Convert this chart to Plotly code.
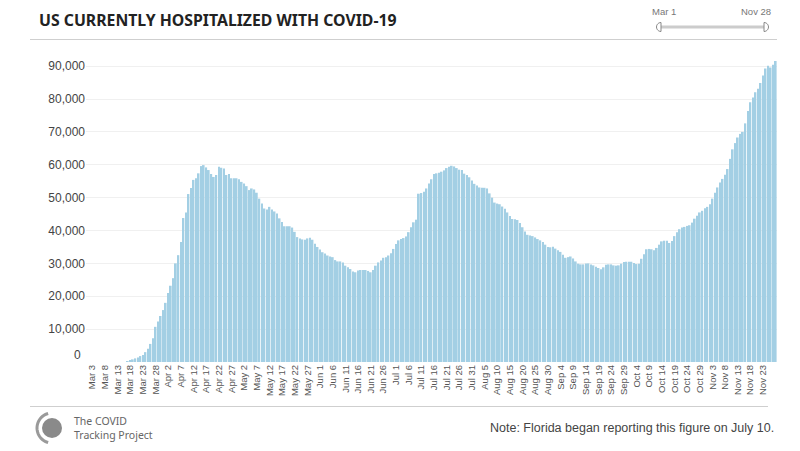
import math
import pandas as pd
import plotly.graph_objects as go

# ---- data (US currently hospitalized, Mar 1 - Nov 28, 2020) ----
mar = [0]*16 + [300, 500, 800, 1100, 1400, 1800, 2100, 3000, 4000, 5500, 7200, 10700, 12300, 14000, 15800]
apr = [18000, 21000, 23200, 25500, 30000, 32500, 36500, 43800, 45500, 51100, 52900, 55400, 55900, 57400, 59600,
       59900, 59200, 58400, 57200, 56300, 56900, 59400, 59100, 58900, 56900, 57200, 55900, 55900, 55900, 55600]
may = [54800, 54300, 53500, 52300, 52800, 52500, 51500, 49700, 48200, 46700, 46400, 47200, 46400, 45800, 45200,
       43700, 42600, 41300, 41300, 41300, 40900, 39600, 38000, 37600, 37300, 37200, 37600, 37800, 37200, 36000, 35000]
jun = [34200, 33400, 33000, 32400, 32100, 31900, 31000, 30600, 30600, 30300, 29300, 28800, 28300, 27500, 27300,
       27800, 28000, 28000, 28000, 27700, 27300, 28000, 29300, 30300, 30900, 31700, 31900, 32400, 33100, 34400]
jul = [35900, 37000, 37400, 37700, 38200, 39500, 41000, 42500, 43300, 51200, 51400, 51800, 52800, 54300, 55600,
       57200, 57400, 57600, 57900, 58300, 59000, 59400, 59700, 59500, 59000, 58500, 58400, 57300, 56900, 56200, 55200]
aug = [54200, 53700, 53100, 53000, 53000, 52800, 51300, 50000, 48500, 48200, 48000, 47300, 46600, 45500, 44400,
       43500, 43400, 43200, 42300, 41000, 39700, 38700, 38500, 38300, 37900, 37400, 37000, 36500, 35700, 35000, 34900]
sep = [35100, 34500, 34000, 33500, 32600, 31700, 31900, 32100, 31500, 30600, 29900, 29700, 29700, 30000, 30000,
       29700, 29400, 29000, 28600, 28200, 28800, 29600, 29700, 29700, 29400, 29300, 29400, 29900, 30400, 30500]
oct_ = [30500, 30500, 30100, 29800, 29900, 31400, 32800, 34300, 34400, 34300, 34000, 34700, 35700, 36700, 36900,
        36900, 36200, 36800, 38300, 39500, 40400, 40900, 41100, 41400, 41600, 42400, 43600, 44500, 45500, 46000, 46800]
nov = [47200, 48000, 49700, 51500, 53100, 54600, 55700, 57000, 58700, 61800, 64700, 66600, 68300, 69400, 70000,
       72600, 76400, 79000, 80500, 82100, 83100, 84900, 87200, 89300, 90100, 89600, 90400, 91600]

hospitalized = mar + apr + may + jun + jul + aug + sep + oct_ + nov
dates = pd.date_range("2020-03-01", periods=len(hospitalized), freq="D")
categories = [f"{d.strftime('%b')} {d.day}" for d in dates]
tick_labels = categories[2:270:5]       # Mar 3, Mar 8, ... Nov 23
y_ticks = [10000, 20000, 30000, 40000, 50000, 60000, 70000, 80000, 90000]
y_tick_labels = [f"{v:,}" for v in y_ticks]

# ---- geometry helpers (reference pixel -> paper) ----
W, H = 800, 451
L, T = 86, 55
R = W - 777
B = H - 362
PW, PH = W - L - R, H - T - B
def X(px): return (px - L) / PW
def Y(py): return (H - B - py) / PH

fig = go.Figure(go.Bar(
    x=categories, y=hospitalized,
    marker=dict(color="#a3cfe4", line=dict(width=0)),
    hovertemplate="%{x}: %{y:,}<extra></extra>",
))

shapes = []
# separator lines
shapes.append(dict(type="line", xref="paper", yref="paper", x0=X(30), x1=X(777), y0=Y(39.5), y1=Y(39.5),
                   line=dict(color="#cfcfcf", width=1)))
shapes.append(dict(type="line", xref="paper", yref="paper", x0=X(30), x1=X(768), y0=Y(406.5), y1=Y(406.5),
                   line=dict(color="#cfcfcf", width=1)))
# slider track
shapes.append(dict(type="line", xref="paper", yref="paper", x0=X(660), x1=X(764), y0=Y(27), y1=Y(27),
                   line=dict(color="#cccccc", width=3)))

def handle_path(cx, cy, r, left):
    pts = []
    sgn = -1 if left else 1
    for i in range(0, 13):
        a = -math.pi/2 + math.pi * i / 12
        pts.append((cx + sgn * r * math.cos(a), cy + r * math.sin(a)))
    pts.append((cx, cy + r)); pts.append((cx, cy - r))
    return "M " + " L ".join(f"{X(px):.5f},{Y(py):.5f}" for px, py in pts) + " Z"

shapes.append(dict(type="path", xref="paper", yref="paper", path=handle_path(661, 27, 4.5, True),
                   fillcolor="white", line=dict(color="#888888", width=1)))
shapes.append(dict(type="path", xref="paper", yref="paper", path=handle_path(764, 27, 4.5, False),
                   fillcolor="white", line=dict(color="#888888", width=1)))

# logo: filled circle + arc
shapes.append(dict(type="circle", xref="paper", yref="paper", x0=X(42), x1=X(62), y0=Y(418), y1=Y(438),
                   fillcolor="#8a8a8a", line=dict(width=0)))
arc = []
for i in range(0, 25):
    a = math.radians(105 + 150 * i / 24)
    arc.append((52 + 15 * math.cos(a), 428 - 15 * math.sin(a)))
shapes.append(dict(type="path", xref="paper", yref="paper",
                   path="M " + " L ".join(f"{X(px):.5f},{Y(py):.5f}" for px, py in arc),
                   line=dict(color="#9a9a9a", width=3)))

annotations = [
    dict(text="<b>US CURRENTLY HOSPITALIZED WITH COVID-19</b>", xref="paper", yref="paper",
         x=X(37), y=Y(20), xanchor="left", yanchor="middle", showarrow=False,
         font=dict(family="Noto Sans", size=15.8, color="#222222")),
    dict(text="Mar 1", xref="paper", yref="paper", x=X(664), y=Y(12), xanchor="center", yanchor="middle",
         showarrow=False, font=dict(family="Liberation Sans", size=9.5, color="#777777")),
    dict(text="Nov 28", xref="paper", yref="paper", x=X(756), y=Y(12), xanchor="center", yanchor="middle",
         showarrow=False, font=dict(family="Liberation Sans", size=9.5, color="#777777")),
    dict(text="0", xref="paper", yref="y", x=X(83), y=0, yshift=7, xanchor="right", yanchor="middle",
         showarrow=False, font=dict(family="Liberation Sans", size=12, color="#444444")),
    dict(text="The COVID<br>Tracking Project", xref="paper", yref="paper", x=X(72), y=Y(428),
         xanchor="left", yanchor="middle", align="left", showarrow=False,
         font=dict(family="Noto Sans", size=10.5, color="#666666")),
    dict(text="Note: Florida began reporting this figure on July 10.", xref="paper", yref="paper",
         x=X(776), y=Y(428), xanchor="right", yanchor="middle", showarrow=False,
         font=dict(family="Liberation Sans", size=12.5, color="#444444")),
]

fig.update_layout(
    width=W, height=H,
    margin=dict(l=L, r=R, t=T, b=B, autoexpand=False),
    plot_bgcolor="white", paper_bgcolor="white",
    showlegend=False, bargap=0.32,
    shapes=shapes, annotations=annotations,
    xaxis=dict(type="category", tickmode="array", tickvals=tick_labels, ticktext=tick_labels,
               tickangle=-90, showgrid=False, showline=False, zeroline=False, ticks="",
               automargin=False,
               tickfont=dict(family="Liberation Sans", size=9.5, color="#555555"),
               range=[-0.5, len(hospitalized) - 0.5]),
    yaxis=dict(range=[0, 93400], tickmode="array", tickvals=y_ticks, ticktext=y_tick_labels,
               showgrid=True, gridcolor="#f0f0f0", gridwidth=1, zeroline=False, showline=False,
               ticks="", automargin=False,
               tickfont=dict(family="Liberation Sans", size=12, color="#444444")),
)

# remove the browser's default 8px body margin so the figure fills the window exactly
fig.write_html("out.html", config={"displayModeBar": False},
               post_script="document.body.style.margin='0';document.body.style.overflow='hidden';")
